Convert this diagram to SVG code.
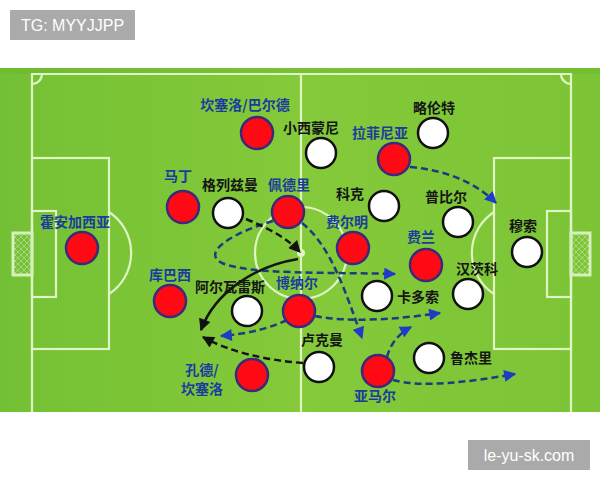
<svg xmlns="http://www.w3.org/2000/svg" width="600" height="480" viewBox="0 0 600 480">
<defs>
<style>
.line{fill:none;stroke:#dff5c4;stroke-width:2.2}
.red{fill:#ff0a14;stroke:#3a2a7a;stroke-width:2.5}
.white{fill:#ffffff;stroke:#111111;stroke-width:2.5}
.lb{font-family:"Noto Sans CJK SC",sans-serif;font-size:14px;font-weight:bold;fill:#1a3c9c;text-anchor:middle}
.lk{font-family:"Noto Sans CJK SC",sans-serif;font-size:14px;font-weight:bold;fill:#151515;text-anchor:middle}
.tag{font-family:"Liberation Sans",Arial,sans-serif;font-size:16px;fill:#ffffff;text-anchor:middle}
.bd{fill:none;stroke:#1c3c80;stroke-width:2.5;stroke-dasharray:7 4}
.kd{fill:none;stroke:#151515;stroke-width:2.5;stroke-dasharray:7 4}
.ks{fill:none;stroke:#151515;stroke-width:2.5}
</style>
<marker id="ab" viewBox="0 0 10 10" refX="9" refY="5" markerWidth="13" markerHeight="12" markerUnits="userSpaceOnUse" orient="auto"><path d="M0,0 L10,5 L0,10 z" fill="#1e3cc8"/></marker>
<marker id="ak" viewBox="0 0 10 10" refX="9" refY="5" markerWidth="13" markerHeight="12" markerUnits="userSpaceOnUse" orient="auto"><path d="M0,0 L10,5 L0,10 z" fill="#111111"/></marker>
<pattern id="net" width="6" height="6" patternUnits="userSpaceOnUse"><path d="M0,0 L6,6 M6,0 L0,6" stroke="#b5dc90" stroke-width="0.8"/></pattern>
<linearGradient id="stripes" x1="0" y1="0" x2="1" y2="0">
<stop offset="0" stop-color="#74c034"/>
<stop offset="0.5" stop-color="#84ca3a"/>
<stop offset="1" stop-color="#7cc436"/>
</linearGradient>
</defs>
<rect width="600" height="480" fill="#ffffff"/>
<g id="pitch">
<rect x="0" y="68" width="600" height="344" fill="url(#stripes)"/>
<rect x="0" y="68" width="600" height="6" fill="#6cb82e" opacity="0.5"/>
<path class="line" d="M32,412 V74 H571 V412"/>
<line class="line" x1="301" y1="74" x2="301" y2="412"/>
<circle class="line" cx="301" cy="253" r="46"/>
<circle cx="301" cy="253" r="4" fill="#dff5c4"/>
<path class="line" d="M32,84 A10,10 0 0 0 42,74"/>
<path class="line" d="M561,74 A10,10 0 0 0 571,84"/>
<rect class="line" x="32" y="158" width="77" height="191"/>
<rect class="line" x="32" y="211" width="24" height="86"/>
<path class="line" d="M109,212 A49,49 0 0 1 109,294"/>
<rect x="13" y="233" width="19" height="42" fill="url(#net)" stroke="#d6f0bd" stroke-width="3"/>
<rect class="line" x="494" y="158" width="77" height="191"/>
<rect class="line" x="547" y="211" width="24" height="86"/>
<path class="line" d="M494,212 A49,49 0 0 0 494,294"/>
<rect x="571" y="233" width="19" height="42" fill="url(#net)" stroke="#d6f0bd" stroke-width="3"/>
</g>
<g id="connectors">
<path class="bd" d="M273,221 C235,232 200,252 222,263 C250,275 330,272 395,274" marker-end="url(#ab)"/>
<path class="bd" d="M302,223 C330,245 345,290 362,338" marker-end="url(#ab)"/>
<path class="bd" d="M315,316 C350,323 400,319 440,313" marker-end="url(#ab)"/>
<path class="bd" d="M287,320 C265,330 245,334 221,336" marker-end="url(#ab)"/>
<path class="bd" d="M387,357 C390,345 398,334 411,327" marker-end="url(#ab)"/>
<path class="bd" d="M393,380 C420,388 470,382 515,374" marker-end="url(#ab)"/>
<path class="bd" d="M410,167 C445,170 475,182 496,203" marker-end="url(#ab)"/>
<path class="kd" d="M246,219 C268,228 287,238 300,252" marker-end="url(#ak)"/>
<path class="ks" d="M298,259 C255,266 215,292 201,330" marker-end="url(#ak)"/>
<path class="kd" d="M303,363 C265,360 230,352 203,337" marker-end="url(#ak)"/>
</g>
<g id="n-joangarcia"><circle class="red" cx="82" cy="248" r="16"/><text class="lb" x="75" y="227">霍安加西亚</text></g>
<g id="n-martin"><circle class="red" cx="183" cy="207" r="16"/><text class="lb" x="178" y="181">马丁</text></g>
<g id="n-cubarsi"><circle class="red" cx="170" cy="301" r="16"/><text class="lb" x="170" y="280">库巴西</text></g>
<g id="n-cancelo-balde"><circle class="red" cx="257" cy="133" r="16"/><text class="lb" x="245" y="110">坎塞洛/巴尔德</text></g>
<g id="n-pedri"><circle class="red" cx="288" cy="212" r="16"/><text class="lb" x="289" y="190">佩德里</text></g>
<g id="n-fermin"><circle class="red" cx="353" cy="248" r="16"/><text class="lb" x="347" y="227">费尔明</text></g>
<g id="n-bernal"><circle class="red" cx="299" cy="311" r="16"/><text class="lb" x="297" y="288">博纳尔</text></g>
<g id="n-kounde"><circle class="red" cx="252" cy="375" r="16"/><text class="lb" x="202" y="375">孔德/</text><text class="lb" x="202" y="394">坎塞洛</text></g>
<g id="n-raphinha"><circle class="red" cx="394" cy="159" r="16"/><text class="lb" x="380" y="138">拉菲尼亚</text></g>
<g id="n-ferran"><circle class="red" cx="426" cy="265" r="16"/><text class="lb" x="421" y="242">费兰</text></g>
<g id="n-yamal"><circle class="red" cx="378" cy="371" r="16"/><text class="lb" x="375" y="401">亚马尔</text></g>
<g id="n-simeone"><circle class="white" cx="321" cy="153" r="15"/><text class="lk" x="311" y="133">小西蒙尼</text></g>
<g id="n-griezmann"><circle class="white" cx="228" cy="213" r="15"/><text class="lk" x="230" y="190">格列兹曼</text></g>
<g id="n-llorente"><circle class="white" cx="433" cy="133" r="15"/><text class="lk" x="434" y="113">略伦特</text></g>
<g id="n-koke"><circle class="white" cx="384" cy="206" r="15"/><text class="lk" x="350" y="199">科克</text></g>
<g id="n-pubill"><circle class="white" cx="458" cy="222" r="15"/><text class="lk" x="446" y="202">普比尔</text></g>
<g id="n-musso"><circle class="white" cx="527" cy="252" r="15"/><text class="lk" x="523" y="231">穆索</text></g>
<g id="n-alvarez"><circle class="white" cx="247" cy="311" r="15"/><text class="lk" x="230" y="292">阿尔瓦雷斯</text></g>
<g id="n-cardoso"><circle class="white" cx="377" cy="296" r="15"/><text class="lk" x="418" y="302">卡多索</text></g>
<g id="n-hancko"><circle class="white" cx="468" cy="294" r="15"/><text class="lk" x="477" y="274">汉茨科</text></g>
<g id="n-lookman"><circle class="white" cx="319" cy="367" r="15"/><text class="lk" x="322" y="345">卢克曼</text></g>
<g id="n-ruggeri"><circle class="white" cx="429" cy="358" r="15"/><text class="lk" x="471" y="363">鲁杰里</text></g>
<g id="tag-tg"><rect x="10" y="10" width="125" height="30" fill="#aaaaaa"/><text class="tag" x="72.5" y="31">TG: MYYJJPP</text></g>
<g id="tag-site"><rect x="468" y="440" width="122" height="30" fill="#aaaaaa"/><text class="tag" x="529" y="461">le-yu-sk.com</text></g>
</svg>
